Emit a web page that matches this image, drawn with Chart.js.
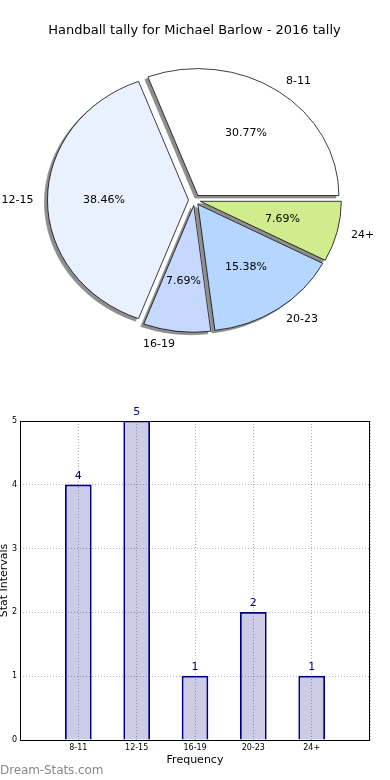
<!DOCTYPE html>
<html>
<head>
<meta charset="utf-8">
<script src="https://cdn.jsdelivr.net/npm/chart.js@4"></script>
<style>
  body { margin: 0; background: #fff; width: 390px; height: 780px; position: relative; overflow: hidden; }
  canvas { display: block; }
  #mark { position: absolute; left: 0; top: 763px; font: 12px "DejaVu Sans", sans-serif; color: #888; letter-spacing: -0.1px; }
</style>
</head>
<body>
<canvas id="pieChart" width="390" height="390"></canvas>
<canvas id="barChart" width="390" height="390"></canvas>
<div id="mark">Dream-Stats.com</div>
<script>
const categories = ['8-11', '12-15', '16-19', '20-23', '24+'];
const counts = [4, 5, 1, 2, 1];
const sliceColors = ['#ffffff', '#eaf1fe', '#c6d8fe', '#b5d6fe', '#d0ec8c'];
const yTicks = [0, 1, 2, 3, 4, 5];

Chart.defaults.font.family = '"DejaVu Sans", sans-serif';
Chart.defaults.color = '#000';

const total = counts.reduce((a, b) => a + b, 0);
const explode = 6;      // px the wedges are pulled out
const squash = 0.9;     // pie is drawn as an ellipse

// pie is drawn clockwise in chart.js, so reverse to get the counter-clockwise look
const pieLabels = categories.slice().reverse();
const pieValues = counts.slice().reverse();
const pieColors = sliceColors.slice().reverse();

// draws the wedges pulled out, squashed, with a flat grey shadow underneath
const pieLook = {
  id: 'pieLook',
  beforeDatasetsDraw(chart) {
    const { ctx, chartArea } = chart;
    const cx = (chartArea.left + chartArea.right) / 2;
    const cy = (chartArea.top + chartArea.bottom) / 2;
    const arcs = chart.getDatasetMeta(0).data;
    const pulled = arc => {
      const mid = (arc.startAngle + arc.endAngle) / 2;
      return [Math.cos(mid) * explode, Math.sin(mid) * explode];
    };
    ctx.save();
    ctx.translate(cx, cy);
    ctx.scale(1, squash);
    ctx.translate(-cx, -cy);

    // shadow pass: shapes pushed off canvas, only their shadow lands
    ctx.save();
    ctx.shadowColor = '#8e8e8e';
    ctx.shadowOffsetX = 3000 - 3;
    ctx.shadowOffsetY = 2.5;
    ctx.shadowBlur = 0;
    arcs.forEach(arc => {
      const [dx, dy] = pulled(arc);
      ctx.save();
      ctx.translate(dx - 3000, dy);
      arc.draw(ctx);
      ctx.restore();
    });
    ctx.restore();

    arcs.forEach(arc => {
      const [dx, dy] = pulled(arc);
      ctx.save();
      ctx.translate(dx, dy);
      arc.draw(ctx);
      ctx.restore();
    });
    ctx.restore();
    return false;
  },
  afterDraw(chart) {
    const { ctx, chartArea } = chart;
    const cy = (chartArea.top + chartArea.bottom) / 2;
    const meta = chart.getDatasetMeta(0);
    ctx.save();
    ctx.fillStyle = '#000';
    ctx.font = '11px "DejaVu Sans", sans-serif';
    ctx.textBaseline = 'middle';
    meta.data.forEach((arc, i) => {
      const p = arc.getProps(['x', 'y', 'startAngle', 'endAngle', 'outerRadius'], true);
      const mid = (p.startAngle + p.endAngle) / 2;
      const c = Math.cos(mid), s = Math.sin(mid);
      const ax = p.x + c * explode, ay = p.y + s * explode;
      const sy = v => cy + (v - cy) * squash;

      const pct = (pieValues[i] / total * 100).toFixed(2) + '%';
      ctx.textAlign = 'center';
      ctx.fillText(pct, ax + c * p.outerRadius * 0.6, sy(ay + s * p.outerRadius * 0.6));

      ctx.textAlign = c > 0 ? 'left' : 'right';
      ctx.fillText(pieLabels[i], ax + c * p.outerRadius * 1.1, sy(ay + s * p.outerRadius * 1.1));
    });
    ctx.restore();
  }
};

new Chart(document.getElementById('pieChart'), {
  type: 'pie',
  data: {
    labels: pieLabels,
    datasets: [{
      data: pieValues,
      backgroundColor: pieColors,
      borderColor: '#000',
      borderWidth: 0.8,
      borderJoinStyle: 'miter'
    }]
  },
  options: {
    responsive: false,
    animation: false,
    rotation: 90,
    radius: 141,
    layout: { padding: { top: 0, left: 0, right: 1, bottom: 28.6 } },
    plugins: {
      legend: { display: false },
      tooltip: { enabled: false },
      title: {
        display: true,
        text: 'Handball tally for Michael Barlow - 2016 tally',
        color: '#000',
        font: { size: 13, weight: 'normal' },
        padding: { top: 23, bottom: 0 }
      }
    }
  },
  plugins: [pieLook]
});

const frame = {
  id: 'frame',
  afterDraw(chart) {
    const { ctx, chartArea } = chart;
    ctx.save();
    ctx.strokeStyle = '#000';
    ctx.lineWidth = 1;
    ctx.strokeRect(Math.round(chartArea.left) + 0.5, Math.round(chartArea.top) + 0.5,
      Math.round(chartArea.right - chartArea.left) - 1, Math.round(chartArea.bottom - chartArea.top));
    ctx.restore();
  },
  afterDatasetsDraw(chart) {
    const { ctx } = chart;
    const meta = chart.getDatasetMeta(0);
    ctx.save();
    ctx.fillStyle = '#000080';
    ctx.font = '11px "DejaVu Sans", sans-serif';
    ctx.textAlign = 'center';
    ctx.textBaseline = 'middle';
    meta.data.forEach((bar, i) => {
      ctx.fillText(String(counts[i]), bar.x, bar.y - 9);
    });
    ctx.restore();
  }
};

const gridLine = {
  color: 'rgba(0,0,0,0.3)',
  lineWidth: 1,
  drawTicks: false,
  offset: false
};

new Chart(document.getElementById('barChart'), {
  type: 'bar',
  data: {
    datasets: [{
      data: categories.map((c, i) => ({ x: i + 1, y: counts[i] })),
      backgroundColor: 'rgba(0,0,128,0.2)',
      borderColor: '#000080',
      borderWidth: 1,
      barThickness: 26
    }]
  },
  options: {
    responsive: false,
    animation: false,
    layout: { padding: { top: 31, right: 20, left: 0, bottom: 0 } },
    plugins: { legend: { display: false }, tooltip: { enabled: false } },
    scales: {
      x: {
        type: 'linear',
        offset: false,
        min: 0,
        max: categories.length + 1,
        afterFit(scale) { scale.height = 40; },
        ticks: {
          stepSize: 1,
          autoSkip: false,
          maxRotation: 0,
          padding: 3,
          font: { size: 8 },
          callback: v => categories[v - 1] || ''
        },
        grid: gridLine,
        border: { display: false, dash: [1, 2] },
        title: {
          display: true,
          text: 'Frequency',
          font: { size: 11 },
          padding: { top: 0, bottom: 13.4 }
        }
      },
      y: {
        min: yTicks[0],
        max: yTicks[yTicks.length - 1],
        afterFit(scale) { scale.width = 20; },
        ticks: { stepSize: 1, padding: 3, font: { size: 8 } },
        grid: gridLine,
        border: { display: false, dash: [1, 2] },
        title: {
          display: true,
          text: 'Stat Intervals',
          font: { size: 11, lineHeight: 0.75 },
          padding: { top: 0, bottom: 0 }
        }
      }
    }
  },
  plugins: [frame]
});
</script>
</body>
</html>
